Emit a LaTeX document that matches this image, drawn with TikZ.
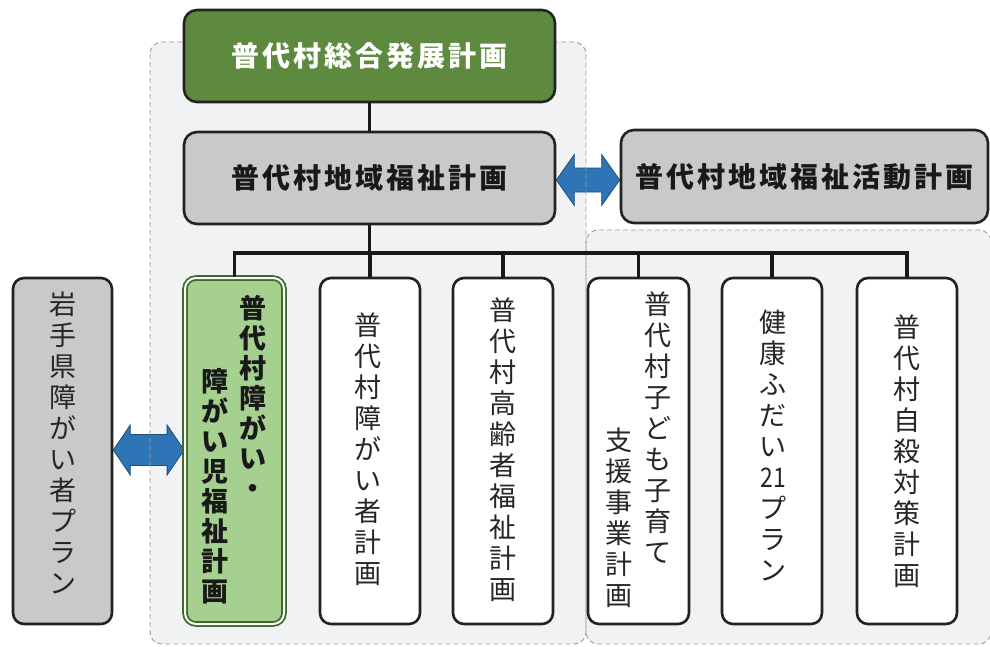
\documentclass[tikz,border=0pt]{standalone}
\usepackage{fontspec}
\usepackage{graphicx}
\newfontfamily\jp{Noto Sans CJK JP}
\usetikzlibrary{calc}
\definecolor{topgreen}{HTML}{5E8A40}
\definecolor{greenlight}{HTML}{A5D08F}
\definecolor{greendark}{HTML}{3E6A2C}
\definecolor{boxgray}{HTML}{C8C9CB}
\definecolor{boxline}{HTML}{222222}
\definecolor{txt}{HTML}{262626}
\definecolor{regionfill}{HTML}{F1F2F4}
\definecolor{dashgray}{HTML}{9C9C9C}
\definecolor{arrowblue}{HTML}{2E75B6}
\definecolor{arrowline}{HTML}{1F4E79}
\pgfdeclarelayer{bg}\pgfdeclarelayer{mid}\pgfdeclarelayer{mid2}
\pgfsetlayers{bg,mid,mid2,main}
\newcommand{\ks}{\kern3pt}
\newcommand{\dblarr}[6]{% #1 left node anchor, #2 right node anchor, #3 dy, #4 head half, #5 shaft half, #6 head length
  \draw[dbl] let \p1=(#1), \p2=(#2), \n1={\y1+#3} in
    (\x1,\n1) -- (\x1+#6,\n1+#4) -- (\x1+#6,\n1+#5) -- (\x2-#6,\n1+#5) -- (\x2-#6,\n1+#4)
    -- (\x2,\n1) -- (\x2-#6,\n1-#4) -- (\x2-#6,\n1-#5) -- (\x1+#6,\n1-#5) -- (\x1+#6,\n1-#4) -- cycle;}
\begin{document}
\begin{tikzpicture}[x=1pt,y=-1pt,
  box/.style={draw=boxline, line width=2.6pt, rounded corners=13pt, inner sep=0pt},
  title/.style={box, minimum width=371pt, minimum height=92pt, font=\jp\bfseries\fontsize{28}{30}\selectfont, text=black!90},
  tall/.style={box, fill=white, minimum width=100pt, minimum height=346pt, rounded corners=11pt},
  vtxt/.style={align=center, inner sep=0pt, anchor=north, font=\jp\fontsize{27}{31}\selectfont, text=txt},
  vbold/.style={vtxt, font=\jp\bfseries\fontsize{27}{30}\selectfont, text=black!90},
  conn/.style={line width=3.2pt, draw=black!90, line join=miter},
  dbl/.style={fill=arrowblue, draw=arrowline, line width=0.8pt, line join=miter},
  regionline/.style={draw=dashgray, dash pattern=on 5pt off 3pt, line width=0.9pt}]
\useasboundingbox (0,0) rectangle (990,646);

% background regions
\begin{pgfonlayer}{bg}
\fill[regionfill, rounded corners=12pt] (150,42) rectangle (586,644);
\fill[regionfill, rounded corners=12pt] (586,230) rectangle (991,644);
\end{pgfonlayer}
\begin{pgfonlayer}{mid2}
\draw[regionline, rounded corners=12pt] (150,42) rectangle (586,644);
\draw[regionline, rounded corners=12pt] (586,230) rectangle (991,644);
\end{pgfonlayer}

% top boxes
\node[title, fill=topgreen, text=white] (top) at (369.5,56) {普\ks 代\ks 村\ks 総\ks 合\ks 発\ks 展\ks 計\ks 画};
\node[title, fill=boxgray] (gray) at (369.5,178) {普\ks 代\ks 村\ks 地\ks 域\ks 福\ks 祉\ks 計\ks 画};
\node[title, fill=boxgray, minimum width=367pt, minimum height=93pt] (act) at (804.5,176.5) {普\ks 代\ks 村\ks 地\ks 域\ks 福\ks 祉\ks 活\ks 動\ks 計\ks 画};

% tall boxes
\node[tall, fill=boxgray, minimum width=99pt] (iwate) at (62.5,451) {};
\node[tall, fill=greenlight, draw=greendark, double=white, double distance=2pt, line width=1.8pt, minimum width=99pt] (green) at (234.5,451) {};
\node[tall] (b2) at (370,451) {};
\node[tall] (b3) at (503,451) {};
\node[tall, minimum width=101pt] (b4) at (638.5,451) {};
\node[tall] (b5) at (772,451) {};
\node[tall] (b6) at (907,451) {};

% vertical texts
\node[vtxt] (t-iwate) at (63,292) {岩\\手\\県\\障\\が\\い\\者\\プ\\ラ\\ン};
\node[vbold] (t-green1) at (253,295) {普\\代\\村\\障\\が\\い\\・};
\node[vbold] (t-green2) at (215,368) {障\\が\\い\\児\\福\\祉\\計\\画};
\node[vtxt] (t-b2) at (368,313) {普\\代\\村\\障\\が\\い\\者\\計\\画};
\node[vtxt] (t-b3) at (503,298) {普\\代\\村\\高\\齢\\者\\福\\祉\\計\\画};
\node[vtxt] (t-b4a) at (658,292) {普\\代\\村\\子\\ど\\も\\子\\育\\て};
\node[vtxt] (t-b4b) at (619,428) {支\\援\\事\\業\\計\\画};
\node[vtxt] (t-b5) at (773,310) {健\\康\\ふ\\だ\\い\\\scalebox{0.85}[1]{21}\\プ\\ラ\\ン};
\node[vtxt] (t-b6) at (907,315) {普\\代\\村\\自\\殺\\対\\策\\計\\画};

% connectors
\coordinate (bus) at (0,253);
\draw[conn] (top.south) -- (gray.north);
\draw[conn] (gray.south) -- (gray.south |- bus);
\draw[conn] (green.north) -- (green.north |- bus) -- (b6.north |- bus) -- (b6.north);
\foreach \b in {b2,b3,b4,b5} \draw[conn] (\b.north) -- (\b.north |- bus);

% double arrows
\begin{pgfonlayer}{mid}
\dblarr{gray.east}{act.west}{-2pt}{25.5pt}{12pt}{18pt}
\dblarr{iwate.east}{green.west}{1pt}{25pt}{15.5pt}{17pt}
\end{pgfonlayer}
\end{tikzpicture}
\end{document}
